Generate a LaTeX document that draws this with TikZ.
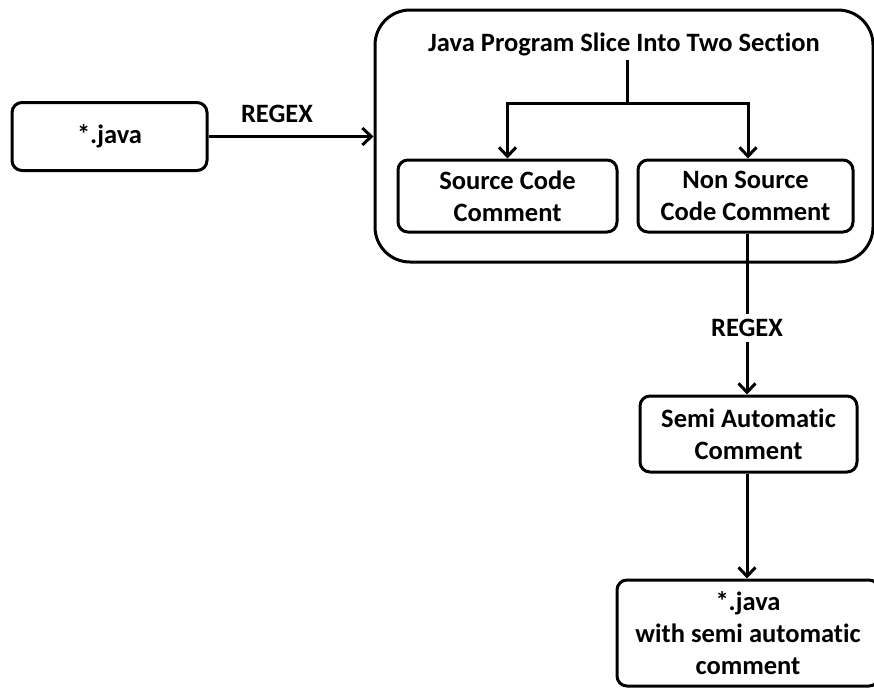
\documentclass[tikz,border=0pt]{standalone}
\usepackage{fontspec}
\setmainfont{Carlito}[Ligatures=NoCommon]
\usetikzlibrary{arrows.meta}

\begin{document}
\begin{tikzpicture}
	[x=1pt, y=-1pt, line width=3pt,
	box/.style = {draw, rounded corners=10pt, align=center, inner sep=0pt},
	lbl/.style = {font=\bfseries\fontsize{26.5}{32}\selectfont, align=center},
	>={Straight Barb[length=9pt, width=17pt]}]
	\useasboundingbox (0,0) rectangle (874,688);
	% outer frame for the slicing step
	\node[draw, rounded corners=35pt, minimum width=498pt, minimum height=252pt] (frame) at (624,136) {};
	\node[lbl] (title) at (624,44) {Java Program Slice Into Two Section};
	\coordinate (split) at (627,103);
	% boxes
	\node[box, lbl, minimum width=195pt, minimum height=68pt] (src) at (109.5,136.5) {*.java};
	\node[box, lbl, minimum width=219pt, minimum height=72pt] (code) at (507.5,196) {Source Code\\Comment};
	\node[box, lbl, minimum width=215pt, minimum height=72pt] (noncode) at (745.5,196) {Non Source\\Code Comment};
	\node[box, lbl, minimum width=217pt, minimum height=76pt] (semi) at (748.5,434) {Semi Automatic\\Comment};
	\node[box, lbl, minimum width=262pt, minimum height=106pt] (out) at (748,633) {*.java\\with semi automatic\\comment};
	% labels
	\node[lbl] (rx1) at (277,114) {REGEX};
	\node[lbl] (rx2) at (747,328) {REGEX};
	% connectors
	\draw[->] (src) -- (frame.west |- src);
	\draw (title.south -| split) -- (split);
	\draw[->] (split) -| (code.north);
	\draw[->] (split) -| (noncode.north -| 748,0);
	\draw (noncode.south -| rx2) -- (rx2.north);
	\draw[->] (rx2.south) -- (semi.north -| rx2);
	\draw[->] (semi.south -| rx2) -- (out.north -| rx2);
\end{tikzpicture}
\end{document}
